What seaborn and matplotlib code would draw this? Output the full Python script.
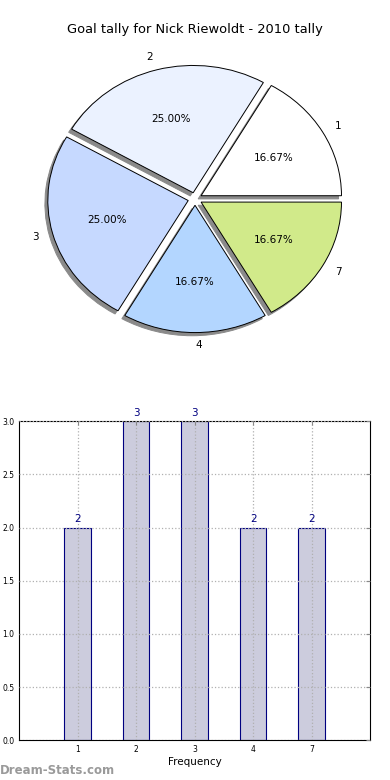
import matplotlib
matplotlib.use('Agg')
import matplotlib.pyplot as plt
import seaborn as sns
import pandas as pd

# Data
goals = ['1', '2', '3', '4', '7']
counts = [2, 3, 3, 2, 2]
pie_colors = ['#ffffff', '#ebf2ff', '#c6d9ff', '#b3d6ff', '#d1ea8a']
title = 'Goal tally for Nick Riewoldt - 2010 tally'

sns.set_style('white')
plt.rcParams['font.family'] = ['DejaVu Sans']
plt.rcParams['text.color'] = 'black'
plt.rcParams['axes.labelcolor'] = 'black'
plt.rcParams['xtick.color'] = 'black'
plt.rcParams['ytick.color'] = 'black'

fig = plt.figure(figsize=(3.9, 7.8), dpi=100)

# Pie chart
ax1 = fig.add_axes([0.05, 0.541, 0.9, 0.408])
ax1.pie(counts, labels=goals, colors=pie_colors, autopct='%1.2f%%',
        explode=[0.05] * len(counts), startangle=0,
        shadow={'ox': -0.015, 'oy': -0.018, 'facecolor': '#8a8a8a',
                'edgecolor': '#8a8a8a', 'alpha': 1},
        wedgeprops={'edgecolor': 'black', 'linewidth': 0.7},
        textprops={'fontsize': 7.5, 'color': 'black'})
ax1.set_aspect('auto')
ax1.set_xlim(-1.25, 1.25)
ax1.set_ylim(-1.25, 1.25)
fig.text(0.5, 1 - 30 / 780, title, ha='center', va='center', fontsize=9.4)

# Bar chart
ax2 = fig.add_axes([0.049, 0.051, 0.9, 0.409])
df = pd.DataFrame({'goals': goals, 'count': counts})
sns.barplot(data=df, x='goals', y='count', ax=ax2, color='#ccccdd',
            saturation=1, width=0.45, edgecolor='#000080', linewidth=0.8)
for i, c in enumerate(counts):
    ax2.text(i, c + 0.03, str(c), ha='center', va='bottom', color='#000080', fontsize=7.5)
ax2.set_xlim(-1, 5)
ax2.set_ylim(0, 3)
ax2.set_yticks([0, 0.5, 1.0, 1.5, 2.0, 2.5, 3.0])
ax2.set_yticklabels(['0.0', '0.5', '1.0', '1.5', '2.0', '2.5', '3.0'])
ax2.grid(True, linestyle=':', color='#b0b0b0', linewidth=0.9)
ax2.set_axisbelow(False)
ax2.tick_params(direction='in', top=True, right=True, labelsize=5.5, length=3, color='#888888')
ax2.set_xlabel('Frequency', fontsize=7.5, labelpad=2)
ax2.set_ylabel('')
for s in ax2.spines.values():
    s.set_color('black')
    s.set_linewidth(0.8)

fig.text(0.0, 1 - 770 / 780, 'Dream-Stats.com', ha='left', va='center',
         fontsize=8.5, color='#9a9a9a', fontweight='semibold')

fig.savefig('out.png', dpi=100)
